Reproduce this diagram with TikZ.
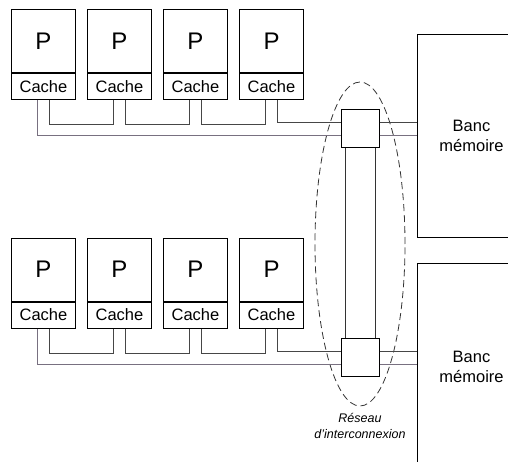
\documentclass[tikz,border=0pt]{standalone}
\usepackage{fontspec}
\setmainfont{Liberation Sans}
\usetikzlibrary{calc,shapes.geometric}
\definecolor{busA}{RGB}{70,70,70}
\definecolor{busB}{RGB}{120,112,128}
\begin{document}
\begin{tikzpicture}[x=1pt,y=-1pt,
  box/.style={draw=black,line width=1pt,inner sep=0pt,anchor=north west,minimum width=64pt},
  pbox/.style={box,minimum height=63pt,font=\fontsize{24}{28}\selectfont},
  cbox/.style={box,minimum height=26pt,font=\fontsize{16.5}{19}\selectfont},
  swbox/.style={draw=black,line width=1pt,inner sep=0pt,minimum width=38pt,minimum height=38pt},
  membox/.style={draw=black,line width=1pt,inner sep=0pt,anchor=north west,minimum width=108pt,align=center,font=\fontsize{16.5}{20}\selectfont},
  busa/.style={draw=busA,line width=1pt},
  busb/.style={draw=busB,line width=1pt},
  link/.style={draw=black!80,line width=1pt},
  net/.style={draw=black!80,line width=0.8pt,dash pattern=on 7pt off 4pt,ellipse,inner sep=0pt,minimum width=90pt,minimum height=324pt},
  lbl/.style={font=\fontsize{12.5}{16}\selectfont\itshape,align=center}
]
\useasboundingbox (0,0) rectangle (508,462);
\clip (0,0) rectangle (508,462);

% network ellipse
\node[net] (ring) at (360,244) {};

% rows
\foreach \r/\y in {1/9,2/237.5}{
  \foreach \i in {1,...,4}{
    \node[pbox] (p\r\i) at ({11+76*(\i-1)},\y) {P};
    \node[cbox] (c\r\i) at (p\r\i.south west) {Cache};
  }
}

% switches
\node[swbox] (sw1) at (360,129) {};
\node[swbox] (sw2) at (360,357.5) {};

% memory banks
\node[membox,minimum height=203pt] (mem1) at (417,34) {Banc\\mémoire};
\node[membox,minimum height=206pt] (mem2) at (417,263) {Banc\\mémoire};

% bus connections
\foreach \r in {1,2}{
  \coordinate (a\r) at ($(sw\r.west)+(0,-6)$);
  \coordinate (b\r) at ($(sw\r.west)+(0,7)$);
  \coordinate (ae\r) at ($(sw\r.east)+(0,-6)$);
  \coordinate (be\r) at ($(sw\r.east)+(0,7)$);
  \draw[busa] ($(c\r1.south west)+(38,0)$) -- ++(0,25) -| ($(c\r2.south west)+(26,0)$);
  \draw[busa] ($(c\r2.south west)+(38,0)$) -- ++(0,25) -| ($(c\r3.south west)+(26,0)$);
  \draw[busa] ($(c\r3.south west)+(38,0)$) -- ++(0,25) -| ($(c\r4.south west)+(26,0)$);
  \draw[busa] ($(c\r4.south west)+(38,0)$) |- (a\r);
  \draw[busb] ($(c\r1.south west)+(26,0)$) |- (b\r);
  \draw[busa] (ae\r) -- (mem\r.west |- ae\r);
  \draw[busb] (be\r) -- (mem\r.west |- be\r);
}

% links between switches
\draw[link] ($(sw1.south)+(-15,0)$) -- ($(sw2.north)+(-15,0)$);
\draw[link] ($(sw1.south)+(15,0)$) -- ($(sw2.north)+(15,0)$);

% label
\node[lbl] (netlbl) at (360,426) {Réseau\\d'interconnexion};
\end{tikzpicture}
\end{document}
